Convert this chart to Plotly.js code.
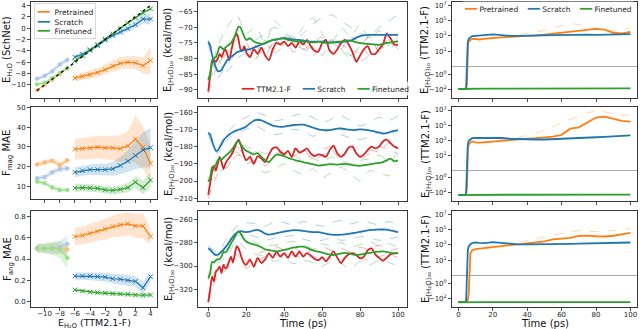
<!DOCTYPE html>
<html>
<head>
<meta charset="utf-8">
<script src="https://cdn.plot.ly/plotly-3.0.1.min.js"></script>
<style>
  html, body { margin: 0; padding: 0; background: #fff; }
  #plot { width: 640px; height: 329px; }
</style>
</head>
<body>
<div id="plot"></div>
<script>
// ---- left column: single-molecule energies / force errors ----
var eLight = [-11, -10, -9, -8, -7];
var eDark = [-6, -5, -4, -3, -2, -1, 0, 1, 2, 3, 4];
var diag = [-11, 4];

var enPreLight = [-10.9, -10, -9.1, -8.1, -7.1];
var enScrLight = [-8.9, -8.4, -7.6, -6.4, -5.6];
var enFinLight = [-9.9, -9.6, -8.8, -7.9, -7.0];
var enPreDark = [-8.8, -8.5, -8.2, -7.8, -7.3, -6.7, -6.2, -6.0, -6.1, -6.6, -5.7];
var enScrDark = [-5.1, -4.6, -3.8, -3.1, -2.1, -1.3, -0.7, -0.1, 0.6, 1.6, 1.6];
var enFinDark = [-5.8, -4.9, -3.9, -2.9, -1.9, -1.0, 0.0, 0.9, 1.8, 2.7, 3.4];
var enSdPreLight = [0.15, 0.15, 0.15, 0.15, 0.15];
var enSdScrLight = [0.3, 0.3, 0.35, 0.4, 0.45];
var enSdFinLight = [0.2, 0.2, 0.2, 0.2, 0.2];
var enSdPreDark = [0.5, 0.6, 0.7, 0.8, 0.9, 1.0, 1.1, 1.1, 1.2, 1.4, 2.4];
var enSdScrDark = [0.4, 0.4, 0.4, 0.4, 0.4, 0.4, 0.45, 0.5, 0.6, 0.8, 1.0];
var enSdFinDark = [0.2, 0.2, 0.2, 0.2, 0.2, 0.2, 0.2, 0.25, 0.25, 0.3, 0.3];

var magPreLight = [21, 22, 22.9, 20.7, 23.2];
var magScrLight = [14, 14.5, 17, 18.6, 19];
var magFinLight = [12.3, 11.5, 9.3, 8, 8];
var magPreDark = [28.8, 29.1, 29.3, 29.8, 29.5, 29.5, 29.1, 30.5, 33.9, 29.7, 21.5];
var magScrDark = [17, 17.8, 18.4, 18.4, 18.4, 18.8, 20.5, 22.7, 25.6, 28.4, 29.6];
var magFinDark = [9, 9.2, 9, 8.8, 8.1, 7.8, 8.3, 9.2, 12, 9.2, 13];
var magSdPreLight = [1.2, 1.2, 1.3, 1.5, 1.5];
var magSdScrLight = [1, 1.2, 1.4, 1.5, 1.5];
var magSdFinLight = [1, 1, 1.2, 1.2, 1];
var magSdPreDark = [5.2, 5.4, 5.6, 5.8, 6, 6.3, 6.8, 7.5, 12, 11, 9.4];
var magSdScrDark = [2.5, 2.5, 2.6, 2.8, 3, 3.5, 4.5, 5.5, 7, 9, 10];
var magSdFinDark = [2, 2, 2, 2, 2, 2, 2.2, 2.4, 3, 3.5, 4];

var angPreLight = [0.5, 0.5, 0.5, 0.5, 0.49];
var angScrLight = [0.5, 0.5, 0.5, 0.51, 0.54];
var angFinLight = [0.5, 0.5, 0.5, 0.49, 0.41];
var angPreDark = [0.61, 0.62, 0.64, 0.66, 0.68, 0.705, 0.72, 0.73, 0.71, 0.71, 0.61];
var angScrDark = [0.24, 0.24, 0.24, 0.235, 0.23, 0.215, 0.21, 0.2, 0.19, 0.13, 0.235];
var angFinDark = [0.11, 0.1, 0.09, 0.085, 0.08, 0.076, 0.073, 0.07, 0.063, 0.06, 0.063];
var angSdPreLight = [0.04, 0.04, 0.05, 0.05, 0.06];
var angSdScrLight = [0.04, 0.04, 0.05, 0.06, 0.08];
var angSdFinLight = [0.04, 0.05, 0.06, 0.08, 0.1];
var angSdPreDark = [0.08, 0.08, 0.09, 0.09, 0.1, 0.1, 0.11, 0.11, 0.11, 0.12, 0.07];
var angSdScrDark = [0.035, 0.035, 0.035, 0.04, 0.04, 0.045, 0.05, 0.05, 0.05, 0.06, 0.05];
var angSdFinDark = [0.015, 0.015, 0.015, 0.02, 0.02, 0.02, 0.02, 0.02, 0.02, 0.025, 0.02];

// ---- middle column: MD energies of clusters, kcal/mol ----
var tMid = [0,1,2,3,4,5,6,7,8,9,10,11,12,13,14,15,16,17,18,19,20,
  22,24,26,28,30,32,34,36,38,40,42,44,46,48,50,52,54,56,58,60,
  62,64,66,68,70,72,74,76,78,80,82,84,86,88,90,92,94,96,98,100];

var w10Ttm = [-90.5,-85.5,-81.5,-80.5,-81,-80,-78.5,-79.5,-78,-77,-78.5,-80.5,-78,-75,-73,-72,-74,-77,-77.5,-76,-78,
  -79.5,-77,-78.5,-76.5,-79,-80.5,-77,-75,-75.5,-74.5,-76,-75,-76.5,-74.5,-75.5,-74,-76,-77.5,-77.8,-75,
  -74,-77.5,-78.5,-77,-75,-74,-75.5,-78,-81,-79,-77,-76,-78.5,-78.5,-77,-75.5,-72,-73.5,-75.5,-75.6];
var w10Scr = [-74.6,-76,-78.8,-81,-82.8,-84,-84,-83.6,-82.5,-81.5,-80.5,-80,-79.4,-79,-78.5,-78,-77.8,-77.6,-77.4,-77.3,-77.2,
  -77,-76.5,-76,-75.5,-75,-74.5,-74,-73.8,-73.6,-73.5,-73.6,-73.8,-74,-74,-74.2,-74.4,-74.6,-74.6,-74.6,-74.6,
  -74.7,-74.8,-74.8,-74.8,-74.7,-74.6,-74.4,-74,-73.3,-72.8,-72.5,-72.4,-72.4,-72.4,-72.4,-72.4,-72.4,-72.4,-72.4,-72.4];
var w10Fin = [-86.8,-85,-80.5,-80,-79.5,-78,-76.2,-76.5,-77,-76.5,-76,-75.5,-75,-74,-73,-71,-69.8,-70,-71.5,-73,-74,
  -73.5,-74.5,-75,-75.3,-75.1,-74.5,-74,-74,-73.5,-73.5,-74,-74.2,-74.5,-74.4,-74.6,-74.6,-74.8,-74.8,-74.6,-74.8,
  -75,-75,-74.8,-74.6,-74.6,-74.3,-74.2,-74.4,-74.8,-75,-75.2,-75.3,-75.4,-75.5,-75.6,-75.3,-75,-74.8,-74.6,-74.6];

var w20Ttm = [-208,-201.5,-195,-191,-194,-190,-186,-189,-193,-190,-188,-186.5,-185,-183,-180.5,-177.5,-176,-178.5,-182.5,-186,-188,
  -186,-190,-185.5,-187,-189,-184.5,-181,-180.5,-183,-184.5,-182.5,-186,-181,-183.5,-182.5,-181,-184,-185.5,-184.5,-185,
  -186,-182,-179.5,-184,-186,-184,-180.5,-180,-184,-186,-184.5,-182,-180,-181,-180,-177,-176,-178,-180,-181];
var w20Scr = [-172,-173,-176.7,-180,-182.4,-182.2,-180.5,-178.6,-176.5,-175,-174,-173,-172.2,-171.6,-171,-170.6,-170.2,-169.8,-169.4,-169,-168.3,
  -166.5,-165,-164.4,-164.8,-165.8,-166.8,-167.8,-168.3,-168.5,-168.4,-168,-167.6,-167.4,-167.2,-167.3,-167.8,-168.5,-169.3,-170,-170.3,
  -170.5,-170.4,-170,-169.6,-169.5,-169.8,-170.2,-170.4,-170.2,-170,-170.1,-170.4,-170.8,-171.3,-171.8,-172.4,-172.2,-171.5,-170.9,-170.6];
var w20Fin = [-200.5,-198,-192,-191.5,-190.5,-188,-187,-187.5,-186.5,-185.5,-184.5,-183.5,-182.5,-181,-179,-177.5,-176.8,-178.5,-180,-181.5,-182.4,
  -183.5,-184.5,-183.8,-186,-188,-189,-186.5,-184.5,-185,-185.5,-186.5,-187.2,-188,-188.5,-189,-189.5,-190,-190.5,-191,-190.8,
  -190.5,-190.2,-190.3,-190.5,-190.2,-190,-190.3,-190.8,-191,-191.2,-190.8,-190.5,-190,-189.8,-189.5,-189,-188,-187,-188.5,-188];

var w30Ttm = [-330.6,-320.6,-309,-313,-305,-303,-300.6,-306,-299,-302,-300.6,-296,-292,-297,-290,-283,-285,-290,-295,-298,-299,
  -294.5,-300.6,-293,-297.5,-294.3,-289,-293,-287.7,-292,-289,-293,-287.5,-292,-287.5,-292,-289,-291,-294,-295,-292.5,
  -296,-292,-287.5,-293,-297.5,-293,-290,-289,-290.5,-293.5,-292,-286.5,-285,-290,-293,-295.5,-293,-290,-289,-289];
var w30Scr = [-284.9,-286,-287.7,-289.5,-290.6,-290.3,-289.2,-287.5,-286,-284,-282,-279.5,-277,-275,-273,-271.5,-270.6,-270.2,-270.5,-270.8,-271,
  -270.6,-269.6,-269.2,-270.4,-272.3,-273.2,-272.8,-272,-271.2,-270.6,-270,-269.5,-269.4,-269.6,-270,-270.4,-270.8,-271,-271.1,-271.6,
  -272.3,-273,-273.4,-273.4,-273.2,-273,-272.6,-272,-271.4,-270.8,-270.2,-269.6,-269.2,-269,-268.8,-268.8,-269,-269.6,-270.3,-271];
var w30Fin = [-310.6,-306,-296.3,-297,-295,-294.5,-294,-292,-288,-288.5,-286.5,-284,-280.6,-278,-275,-272,-270.6,-272,-275,-277.5,-279,
  -280.6,-281.5,-282.5,-284,-285.7,-286.5,-287,-287.5,-287,-286.3,-285.5,-284.5,-284,-283.5,-283.4,-284.5,-286,-287,-287.7,-288.5,
  -289.5,-290.2,-290.6,-290,-289.2,-288.8,-289.2,-290,-290.5,-290.2,-289.6,-289,-288.5,-288,-287.7,-287.5,-288,-288.8,-289.3,-289];

// individual runs (faint dashed), every 5 ps
var tRun = [0,5,10,15,20,25,30,35,40,45,50,55,60,65,70,75,80,85,90,95,100];
var w10TtmRunA = [-88,-80,-76,-72,-78,-76,-79,-74,-76,-73,-77,-75,-73,-78,-75,-79,-76,-73,-78,-74,-77];
var w10TtmRunB = [-91,-82,-78,-74,-75,-80,-76,-77,-73,-78,-75,-79,-76,-74,-77,-73,-75,-79,-76,-77,-74];
var w10FinRunA = [-86,-76,-70,-66,-72,-70,-75,-68,-71,-74,-70,-67,-72,-75,-70,-73,-69,-74,-71,-76,-73];
var w10FinRunB = [-87,-82,-78,-75,-77,-80,-74,-78,-76,-72,-78,-76,-79,-74,-77,-80,-76,-73,-78,-75,-77];
var w10ScrRunA = [-75,-86,-82,-78,-77,-74,-72,-70,-72,-74,-72,-69,-67,-66,-68,-70,-72,-73,-70,-68,-66];
var w10ScrRunB = [-74,-80,-84,-80,-78,-76,-77,-75,-73,-75,-77,-78,-76,-75,-77,-79,-81,-79,-77,-76,-74];
var w20TtmRunA = [-205,-190,-188,-180,-186,-183,-187,-182,-185,-181,-184,-186,-182,-180,-185,-181,-185,-182,-183,-178,-181];
var w20TtmRunB = [-210,-196,-192,-183,-190,-188,-191,-186,-182,-186,-181,-188,-185,-182,-188,-178,-187,-184,-180,-182,-184];
var w20FinRunA = [-200,-190,-185,-178,-180,-182,-184,-183,-186,-185,-188,-187,-189,-186,-188,-190,-188,-187,-185,-188,-184];
var w20FinRunB = [-202,-195,-192,-185,-186,-192,-195,-193,-190,-194,-196,-193,-198,-195,-192,-196,-200,-194,-195,-197,-192];
var w20ScrRunA = [-172,-180,-172,-166,-163,-160,-162,-165,-164,-162,-161,-163,-166,-164,-162,-165,-168,-166,-163,-165,-162];
var w20ScrRunB = [-173,-184,-176,-172,-170,-168,-171,-173,-172,-170,-171,-174,-172,-170,-173,-175,-176,-174,-172,-173,-170];
var w30TtmRunA = [-325,-300,-298,-285,-296,-290,-287,-283,-286,-284,-289,-286,-283,-287,-285,-288,-284,-286,-282,-287,-285];
var w30TtmRunB = [-332,-308,-303,-290,-302,-296,-292,-290,-293,-291,-293,-292,-295,-291,-294,-290,-293,-295,-292,-290,-293];
var w30FinRunA = [-308,-292,-284,-270,-276,-280,-283,-282,-280,-279,-282,-285,-281,-283,-280,-284,-282,-279,-283,-281,-284];
var w30FinRunB = [-312,-298,-292,-278,-286,-290,-292,-296,-294,-298,-295,-297,-300,-296,-298,-302,-296,-299,-295,-297,-300];
var w30ScrRunA = [-283,-288,-276,-266,-263,-264,-266,-262,-263,-265,-262,-264,-266,-263,-261,-264,-262,-263,-265,-262,-264];
var w30ScrRunB = [-286,-292,-283,-274,-273,-275,-278,-276,-275,-274,-277,-279,-278,-276,-278,-277,-275,-276,-278,-277,-275];

// ---- right column: TTM2.1-F energy of the MLP trajectories (symlog axis) ----
var tRight = [0,2,4,4.5,5,5.5,6,7,8,10,12,15,20,25,30,35,40,45,50,55,60,65,70,75,80,85,90,95,100];
var r10Pre = [-82,-84,-85,-80,-20,60,200,300,380,400,330,400,540,620,720,800,890,1100,1400,1900,2400,3300,4400,6500,8000,6500,2500,2000,3200];
var r10Scr = [-82,-84,-85,-60,30,150,400,700,900,1000,1000,1200,1500,1100,1000,950,950,1000,1100,1200,1300,1400,1500,1400,1300,1300,1300,1400,1600];
var r10Fin = [-85,-82,-80,-80,-79,-79,-79,-79,-78,-78,-77,-77,-76,-76,-76,-75,-75,-75,-75,-75,-75,-74,-74,-74,-74,-73,-73,-72,-71];
var r20Pre = [-200,-195,-190,-150,-20,80,250,500,650,500,450,500,650,900,1100,1300,1600,1800,2000,2800,5000,33000,49000,200000,1000000,1300000,600000,350000,290000];
var r20Scr = [-200,-195,-190,-100,50,300,800,1400,1800,2000,2000,2100,2100,1900,1500,1300,1200,1200,1200,1300,1400,1600,1700,1900,2400,2700,3200,3800,4300];
var r20Fin = [-205,-200,-195,-193,-192,-191,-190,-190,-189,-189,-188,-188,-187,-187,-187,-187,-186,-186,-186,-186,-185,-185,-185,-184,-184,-183,-182,-181,-180];
var r30Pre = [-300,-295,-290,-280,-250,-150,-20,80,200,280,320,400,550,700,900,1100,1400,2000,2800,5000,6000,8000,14000,16000,13000,12000,15000,25000,36000];
var r30Scr = [-300,-295,-290,-200,20,200,600,1200,1600,2000,1800,1600,2200,1800,1300,1100,1100,1100,1100,1150,1200,1300,1400,1500,1600,1700,1800,1900,2000];
var r30Fin = [-310,-300,-297,-296,-295,-295,-294,-294,-293,-292,-292,-291,-291,-290,-290,-290,-289,-289,-289,-289,-288,-288,-288,-288,-287,-287,-286,-286,-285];
// one faint pretrained run per panel
var r10PreRun = [-82,-84,-85,-70,-10,80,250,400,500,500,450,500,700,900,1200,1500,2000,3000,5000,9000,20000,40000,30000,15000,9000,5000,4000,6000,9000];
var r20PreRun = [-200,-195,-190,-170,-50,50,200,400,600,600,550,600,800,1200,1800,2500,4000,8000,20000,60000,200000,600000,1500000,4000000,8000000,6000000,3000000,2000000,2500000];
var r30PreRun = [-300,-295,-290,-285,-260,-180,-40,60,150,250,350,500,700,1000,1500,2200,3500,6000,10000,20000,30000,50000,70000,60000,50000,60000,80000,100000,120000];

var C = {pre: '#ff7f0e', scr: '#1f77b4', fin: '#2ca02c', ttm: '#d62728',
         preL: '#ffbb78', scrL: '#aec7e8', finL: '#98df8a'};
var FONT = 'DejaVu Sans, Liberation Sans, sans-serif';

function symlog(v) {
  var a = Math.abs(v);
  return a < 1 ? v : Math.sign(v) * (1 + Math.log10(a));
}

function rgba(hex, a) {
  var n = parseInt(hex.slice(1), 16);
  return 'rgba(' + (n >> 16) + ',' + ((n >> 8) & 255) + ',' + (n & 255) + ',' + a + ')';
}

function band(xs, m, s, color, alpha, k) {
  var up = m.map(function (v, i) { return v + s[i]; });
  var lo = m.map(function (v, i) { return v - s[i]; });
  return {x: xs.concat(xs.slice().reverse()), y: up.concat(lo.slice().reverse()),
    type: 'scatter', mode: 'lines', fill: 'toself', fillcolor: rgba(color, alpha),
    line: {width: 0}, hoverinfo: 'skip', showlegend: false, xaxis: 'x' + k, yaxis: 'y' + k};
}

function series(xs, ys, color, sym, k) {
  return {x: xs, y: ys, type: 'scatter', mode: 'lines+markers',
    line: {color: color, width: 1.2},
    marker: {symbol: sym, size: sym === 'x-thin' ? 4.5 : 3.5, color: color, line: {color: color, width: 1}},
    showlegend: false, xaxis: 'x' + k, yaxis: 'y' + k};
}

function line(xs, ys, color, k, opts) {
  opts = opts || {};
  return {x: xs, y: ys, type: 'scatter', mode: 'lines',
    line: {color: opts.faint ? rgba(color, 0.4) : color, width: opts.faint ? 0.9 : 1.8,
           dash: opts.faint ? 'dash' : 'solid', shape: 'spline', smoothing: 0.6},
    hoverinfo: 'skip', showlegend: false, xaxis: 'x' + k, yaxis: 'y' + k};
}

var data = [];

// left column panels
function leftPanel(k, vals, sds) {
  var colsL = [C.preL, C.scrL, C.finL], colsD = [C.pre, C.scr, C.fin];
  for (var i = 0; i < 3; i++) {
    data.push(band(eLight, vals[i], sds[i], colsL[i], 0.35, k));
    data.push(band(eDark, vals[i + 3], sds[i + 3], colsD[i], 0.2, k));
  }
  for (var j = 0; j < 3; j++) {
    data.push(series(eLight, vals[j], colsL[j], 'circle', k));
    data.push(series(eDark, vals[j + 3], colsD[j], 'x-thin', k));
  }
}
leftPanel(1, [enPreLight, enScrLight, enFinLight, enPreDark, enScrDark, enFinDark],
  [enSdPreLight, enSdScrLight, enSdFinLight, enSdPreDark, enSdScrDark, enSdFinDark]);
data.push({x: diag, y: diag, type: 'scatter', mode: 'lines',
  line: {color: '#000', width: 1.3, dash: 'dot'}, showlegend: false, xaxis: 'x1', yaxis: 'y1'});
leftPanel(2, [magPreLight, magScrLight, magFinLight, magPreDark, magScrDark, magFinDark],
  [magSdPreLight, magSdScrLight, magSdFinLight, magSdPreDark, magSdScrDark, magSdFinDark]);
leftPanel(3, [angPreLight, angScrLight, angFinLight, angPreDark, angScrDark, angFinDark],
  [angSdPreLight, angSdScrLight, angSdFinLight, angSdPreDark, angSdScrDark, angSdFinDark]);

// middle column panels
var runs = [
  [w10TtmRunA, w10TtmRunB, w10ScrRunA, w10ScrRunB, w10FinRunA, w10FinRunB],
  [w20TtmRunA, w20TtmRunB, w20ScrRunA, w20ScrRunB, w20FinRunA, w20FinRunB],
  [w30TtmRunA, w30TtmRunB, w30ScrRunA, w30ScrRunB, w30FinRunA, w30FinRunB]];
var means = [[w10Ttm, w10Scr, w10Fin], [w20Ttm, w20Scr, w20Fin], [w30Ttm, w30Scr, w30Fin]];
var midCols = [C.ttm, C.scr, C.fin];
for (var p = 0; p < 3; p++) {
  var k = 4 + p;
  for (var r = 0; r < 6; r++) data.push(line(tRun, runs[p][r], midCols[Math.floor(r / 2)], k, {faint: true}));
  data.push(line(tMid, means[p][0], C.ttm, k));
  data.push(line(tMid, means[p][1], C.scr, k));
  data.push(line(tMid, means[p][2], C.fin, k));
}

// right column panels
var rightSets = [[r10Pre, r10Scr, r10Fin], [r20Pre, r20Scr, r20Fin], [r30Pre, r30Scr, r30Fin]];
var rightRuns = [r10PreRun, r20PreRun, r30PreRun];
for (var q = 0; q < 3; q++) {
  var kk = 7 + q;
  data.push({x: tRight, y: rightRuns[q].map(symlog), type: 'scatter', mode: 'lines',
    line: {color: rgba(C.pre, 0.35), width: 0.9, dash: 'dash'}, showlegend: false,
    xaxis: 'x' + kk, yaxis: 'y' + kk});
  [C.pre, C.scr, C.fin].forEach(function (col, i) {
    data.push({x: tRight, y: rightSets[q][i].map(symlog), type: 'scatter', mode: 'lines',
      line: {color: col, width: 1.8, shape: 'linear'}, showlegend: false,
      xaxis: 'x' + kk, yaxis: 'y' + kk});
  });
}

// axes
var colX = {L: [31 / 640, 157 / 640], M: [198 / 640, 407 / 640], R: [452 / 640, 637 / 640]};
var rowPx = [[2, 98], [107, 201], [211, 307]];

function baseAxis(extra) {
  var a = {showline: true, mirror: true, linecolor: '#222', linewidth: 0.9,
    ticks: 'outside', ticklen: 3, tickwidth: 0.8, tickcolor: '#222', tickangle: 0,
    showgrid: false, zeroline: false, fixedrange: true,
    tickfont: {family: FONT, size: 7, color: '#222'}};
  for (var key in extra) a[key] = extra[key];
  return a;
}

var layout = {
  width: 640, height: 329, margin: {l: 0, r: 0, t: 0, b: 0},
  paper_bgcolor: '#fff', plot_bgcolor: '#fff', showlegend: false,
  font: {family: FONT}
};
var lx = {tickvals: [-10, -8, -6, -4, -2, 0, 2, 4], range: [-11.8, 4.85]};
var tx = [0, 20, 40, 60, 80, 100];
var panels = [
  {col: 'L', row: 0, x: lx, y: {range: [-12.3, 4.6], tickvals: [-10, -8, -6, -4, -2, 0, 2, 4]}, yt: 'E<sub>H₂O</sub> (SchNet)'},
  {col: 'L', row: 1, x: lx, y: {range: [3.4, 50.3], tickvals: [10, 20, 30, 40, 50]}, yt: 'F<sub>mag</sub> MAE', bot: 199},
  {col: 'L', row: 2, x: lx, y: {range: [-0.05, 0.85], tickvals: [0, 0.2, 0.4, 0.6, 0.8], tickformat: '.1f'}, yt: 'F<sub>ang</sub> MAE',
   xt: 'E<sub>H₂O</sub> (TTM2.1-F)', xty: 323.8, xtsize: 9.5, lstand: -3},
  {col: 'M', row: 0, x: {tickvals: tx, range: [-5.4, 104.7]}, y: {range: [-92.6, -61.9], dtick: 5}, yt: 'E<sub>(H₂O)₁₀</sub> (kcal/mol)'},
  {col: 'M', row: 1, x: {tickvals: tx, range: [-5.4, 104.7]}, y: {range: [-211.6, -157], dtick: 10}, yt: 'E<sub>(H₂O)₂₀</sub> (kcal/mol)'},
  {col: 'M', row: 2, x: {tickvals: tx, range: [-5.4, 104.7]}, y: {range: [-335, -253], dtick: 20}, yt: 'E<sub>(H₂O)₃₀</sub> (kcal/mol)',
   xt: 'Time (ps)', xty: 323.5}
];
var symTicks = {tickvals: [-3, -1, 2, 4, 6, 8],
  ticktext: ['−10<sup>2</sup>', '−10<sup>0</sup>', '10<sup>1</sup>', '10<sup>3</sup>', '10<sup>5</sup>', '10<sup>7</sup>'],
  range: [-4.1, 8.4], zeroline: true, zerolinecolor: '#aaa', zerolinewidth: 1};
var subs = ['₁₀', '₂₀', '₃₀'];
for (var rr = 0; rr < 3; rr++) {
  panels.push({col: 'R', row: rr, x: {tickvals: tx, range: [-3.7, 103.8]}, y: symTicks,
    yt: 'E<sub>(H₂O)' + subs[rr] + '</sub> (TTM2.1-F)', xt: rr === 2 ? 'Time (ps)' : null, xty: 323.5});
}

// axis titles are placed as annotations so they sit where the reference has them
var titleX = {L: 8, M: 169, R: 426};
var titleFont = {family: FONT, size: 10, color: '#111'};
layout.annotations = [];

panels.forEach(function (pn, i) {
  var k = i + 1;
  var xa = baseAxis(pn.x);
  xa.domain = colX[pn.col];
  xa.anchor = 'y' + k;
  xa.showticklabels = pn.row === 2;
  xa.ticklabelstandoff = pn.lstand || -2;
  var top = rowPx[pn.row][0], bot = pn.bot || rowPx[pn.row][1];
  var ya = baseAxis(pn.y);
  ya.domain = [1 - bot / 329, 1 - top / 329];
  ya.anchor = 'x' + k;
  layout['xaxis' + k] = xa;
  layout['yaxis' + k] = ya;
  layout.annotations.push({xref: 'paper', yref: 'paper', x: titleX[pn.col] / 640, y: 1 - (top + bot) / 2 / 329,
    xanchor: 'center', yanchor: 'middle', textangle: -90, showarrow: false, font: titleFont, text: pn.yt});
  if (pn.xt) {
    layout.annotations.push({xref: 'paper', yref: 'paper', x: (xa.domain[0] + xa.domain[1]) / 2, y: 1 - pn.xty / 329,
      xanchor: 'center', yanchor: 'middle', showarrow: false, borderpad: 0,
      font: {family: FONT, size: pn.xtsize || 10, color: '#111'}, text: pn.xt});
  }
});

function sw(col) { return "<span style='color:" + col + ";font-size:10px'>━━</span>"; }
var legFont = {family: FONT, size: 7.5, color: '#222'};
layout.annotations.push(
  {xref: 'paper', yref: 'paper', x: 34 / 640, y: 1 - 3 / 329, xanchor: 'left', yanchor: 'top',
   align: 'left', showarrow: false, font: legFont, bgcolor: 'rgba(255,255,255,0.85)',
   bordercolor: '#d0d0d0', borderwidth: 0.8, borderpad: 2,
   text: sw(C.pre) + '  Pretrained<br>' + sw(C.scr) + '  Scratch<br>' + sw(C.fin) + '  Finetuned'},
  {xref: 'paper', yref: 'paper', x: 239 / 640, y: 1 - 88 / 329, xanchor: 'left', yanchor: 'middle',
   showarrow: false, font: legFont, bgcolor: 'rgba(255,255,255,0.75)', borderpad: 1,
   text: sw(C.ttm) + ' TTM2.1-F     ' + sw(C.scr) + ' Scratch     ' + sw(C.fin) + ' Finetuned'},
  {xref: 'paper', yref: 'paper', x: 462 / 640, y: 1 - 8 / 329, xanchor: 'left', yanchor: 'middle',
   showarrow: false, font: legFont, bgcolor: 'rgba(255,255,255,0.75)', borderpad: 1,
   text: sw(C.pre) + ' Pretrained    ' + sw(C.scr) + ' Scratch    ' + sw(C.fin) + ' Finetuned'}
);

Plotly.newPlot('plot', data, layout, {displayModeBar: false, staticPlot: true});
</script>
</body>
</html>
